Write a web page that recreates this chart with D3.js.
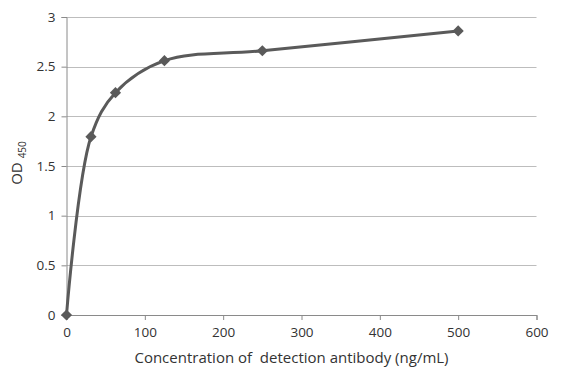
<!DOCTYPE html>
<html><head><meta charset="utf-8">
<script src="https://cdn.jsdelivr.net/npm/d3@7"></script>
<style>
body{margin:0;background:#fff;}
text{font-family:"Open Sans",Lato,sans-serif;fill:#333;}
</style></head>
<body><svg id="c" width="564" height="380"></svg>
<script>
const concentrations = [0, 31.25, 62.5, 125, 250, 500];
const odValues = [0, 1.795, 2.238, 2.56, 2.66, 2.86];
const xTicks = [0, 100, 200, 300, 400, 500, 600];
const yTicks = [0, 0.5, 1, 1.5, 2, 2.5, 3];

const svg = d3.select("#c");
const x = d3.scaleLinear().domain([0, 600]).range([66.5, 536.5]);
const y = d3.scaleLinear().domain([0, 3]).range([315, 17]);

// gridlines
svg.append("g").selectAll("line").data(yTicks.filter(d=>d>0)).join("line")
  .attr("x1", x(0)).attr("x2", x(600))
  .attr("y1", d=>Math.round(y(d))+0.5).attr("y2", d=>Math.round(y(d))+0.5)
  .attr("stroke", "#bdbdbd").attr("stroke-width", 1);

// y axis
const ya = svg.append("g").attr("transform", `translate(${x(0)},0)`)
  .call(d3.axisLeft(y).tickValues(yTicks).tickSize(5).tickPadding(6).tickFormat(d3.format("")));
ya.select(".domain").attr("stroke", "#8a8a8a");
ya.selectAll(".tick line").attr("stroke", "#8a8a8a");
ya.selectAll(".tick text").style("font-size", "13.5px").attr("fill", "#333");

// x axis
const xa = svg.append("g").attr("transform", `translate(0,${y(0)})`)
  .call(d3.axisBottom(x).tickValues(xTicks).tickSize(5).tickPadding(7).tickFormat(d3.format("")));
xa.select(".domain").attr("stroke", "#8a8a8a");
xa.selectAll(".tick line").attr("stroke", "#8a8a8a");
xa.selectAll(".tick text").style("font-size", "13.5px").attr("fill", "#333");

const pts = concentrations.map((c,i)=>[c, odValues[i]]);
svg.append("path").datum(pts)
  .attr("d", d3.line().x(d=>x(d[0])).y(d=>y(d[1])).curve(d3.curveCatmullRom.alpha(0.5)))
  .attr("fill", "none").attr("stroke", "#5a5a5a").attr("stroke-width", 3);

svg.append("g").selectAll("path").data(pts).join("path")
  .attr("d", d3.symbol().type(d3.symbolDiamond2).size(80))
  .attr("transform", d=>`translate(${x(d[0])},${y(d[1])})`)
  .attr("fill", "#5a5a5a");

// titles
svg.append("text").attr("x", 291.5).attr("y", 363).attr("text-anchor", "middle")
  .attr("xml:space", "preserve").style("white-space", "pre")
  .style("font-size", "15px").text("Concentration of  detection antibody (ng/mL)");

const yt = svg.append("text").attr("transform", "translate(22,163) rotate(-90)")
  .attr("text-anchor", "middle").style("font-size", "15px");
yt.append("tspan").text("OD ");
yt.append("tspan").attr("dy", 4).style("font-size", "10px").text("450");
</script></body></html>
